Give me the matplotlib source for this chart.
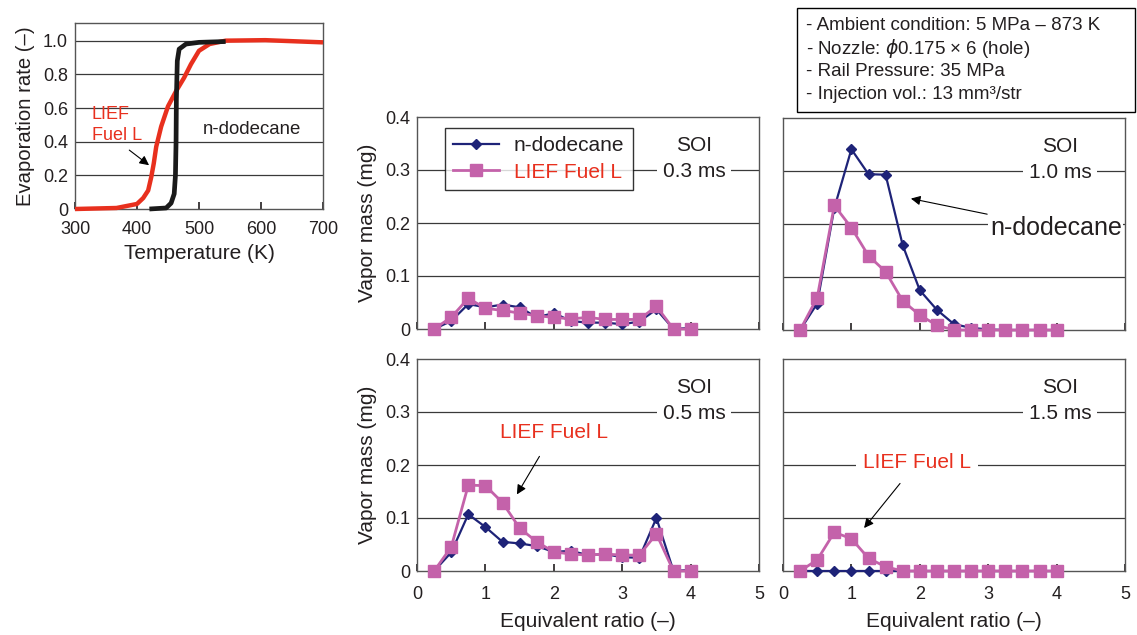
import numpy as np
import matplotlib
matplotlib.use("Agg")
import matplotlib.pyplot as plt
from matplotlib.patches import Rectangle

plt.rcParams['font.family'] = ['Liberation Sans', 'DejaVu Sans']
plt.rcParams['mathtext.fontset'] = 'dejavusans'

# ---- data ----
# evaporation curves (temperature K, evaporation rate)
lief_T = [300, 367, 400, 410, 418, 423, 427, 431, 439, 450, 463, 476, 487, 500, 517, 543, 607, 700]
lief_rate = [0, 0.006, 0.03, 0.065, 0.11, 0.19, 0.27, 0.37, 0.49, 0.61, 0.70, 0.78, 0.86, 0.94, 0.98, 1.0, 1.003, 0.99]
dode_T = [420, 447, 455, 460, 462, 463, 463.5, 465, 468, 479, 500, 543]
dode_rate = [0, 0.006, 0.035, 0.09, 0.2, 0.4, 0.65, 0.88, 0.95, 0.98, 0.99, 0.995]

phi = [0.25, 0.5, 0.75, 1.0, 1.25, 1.5, 1.75, 2.0, 2.25, 2.5, 2.75, 3.0, 3.25, 3.5, 3.75, 4.0]

dode_03 = [0, 0.015, 0.047, 0.041, 0.046, 0.041, 0.022, 0.030, 0.015, 0.012, 0.012, 0.009, 0.014, 0.037, 0, 0.002]
lief_03 = [0, 0.022, 0.058, 0.039, 0.035, 0.030, 0.025, 0.022, 0.019, 0.022, 0.018, 0.018, 0.018, 0.043, 0, 0]

dode_10 = [0, 0.05, 0.23, 0.341, 0.294, 0.293, 0.16, 0.075, 0.038, 0.011, 0.004, 0.001, 0, 0, 0, 0]
lief_10 = [0, 0.061, 0.235, 0.193, 0.14, 0.11, 0.055, 0.028, 0.009, 0, 0, 0, 0, 0, 0, 0]

dode_05 = [0, 0.035, 0.107, 0.083, 0.055, 0.052, 0.047, 0.036, 0.038, 0.030, 0.032, 0.026, 0.025, 0.100, 0, 0.002]
lief_05 = [0, 0.045, 0.162, 0.161, 0.129, 0.081, 0.055, 0.036, 0.032, 0.030, 0.032, 0.030, 0.030, 0.070, 0, 0]

dode_15 = [0, 0, 0, 0, 0, 0, 0, 0, 0, 0, 0, 0, 0, 0, 0, 0]
lief_15 = [0, 0.021, 0.073, 0.061, 0.024, 0.008, 0, 0, 0, 0, 0, 0, 0, 0, 0, 0]

soi_labels = ['SOI\n0.3 ms', 'SOI\n1.0 ms', 'SOI\n0.5 ms', 'SOI\n1.5 ms']
vm_ticks = [0, 0.1, 0.2, 0.3, 0.4]
vm_ticklabels = ['0', '0.1', '0.2', '0.3', '0.4']
er_ticks = [0, 0.2, 0.4, 0.6, 0.8, 1.0]
er_ticklabels = ['0', '0.2', '0.4', '0.6', '0.8', '1.0']
info_lines = ['- Ambient condition: 5 MPa \u2013 873 K',
              '- Nozzle: $\\phi$0.175 \u00d7 6 (hole)',
              '- Rail Pressure: 35 MPa',
              '- Injection vol.: 13 mm\u00b3/str']

TXT = '#231f20'
NAVY = '#1e2378'
PINK = '#c462aa'
RED = '#e8301e'
GRID = '#3a3a3a'

fig = plt.figure(figsize=(11.37, 6.35), dpi=100)


def style(ax):
    for s in ax.spines.values():
        s.set_color('#555555')
        s.set_linewidth(1.0)
    ax.tick_params(colors=TXT, labelsize=13)
    ax.tick_params(axis='x', direction='in', length=5, width=1.2, color=TXT, top=False)
    ax.tick_params(axis='y', length=0, pad=5)
    ax.set_axisbelow(True)


# ---- evaporation panel ----
ax0 = fig.add_axes([75 / 1137, 1 - 209 / 635, 248 / 1137, 186 / 635])
style(ax0)
for y in er_ticks[1:]:
    ax0.axhline(y, color=GRID, lw=0.9, zorder=0)
ax0.plot(lief_T, lief_rate, color=RED, lw=3.2, solid_capstyle='butt', clip_on=False, zorder=3)
ax0.plot(dode_T, dode_rate, color='#1a1a1a', lw=3.4, solid_capstyle='butt', clip_on=False, zorder=4)
ax0.set_xlim(300, 700)
ax0.set_ylim(0, 1.105)
ax0.set_xticks([300, 400, 500, 600, 700])
ax0.set_yticks(er_ticks)
ax0.set_yticklabels(er_ticklabels)
ax0.tick_params(axis='x', pad=9)
ax0.set_xlabel('Temperature (K)', fontsize=15, color=TXT, labelpad=4)
ax0.set_ylabel('Evaporation rate (\u2013)', fontsize=14.6, color=TXT, labelpad=6)
ax0.text(327, 0.5, 'LIEF\nFuel L', color=RED, fontsize=13, ha='left', va='center', linespacing=1.3)
ax0.annotate('', xy=(423, 0.25), xytext=(384, 0.36),
             arrowprops=dict(arrowstyle='-|>', color='black', lw=0.8, mutation_scale=14))
ax0.text(586, 0.47, 'n-dodecane', color=TXT, fontsize=13.4, ha='center', va='center')

# ---- vapor mass panels ----
panels = [
    (417, 117, dode_03, lief_03),
    (783, 118, dode_10, lief_10),
    (417, 359, dode_05, lief_05),
    (783, 359, dode_15, lief_15),
]
axes = []
for i, (px, py, d, l) in enumerate(panels):
    ax = fig.add_axes([px / 1137, 1 - (py + 212) / 635, 342 / 1137, 212 / 635])
    style(ax)
    for y in vm_ticks[1:4]:
        ax.axhline(y, color=GRID, lw=0.9, zorder=0)
    ax.plot(phi, d, color=NAVY, lw=1.6, marker='D', ms=5.5, label='n-dodecane',
            clip_on=False, zorder=3)
    ax.plot(phi, l, color=PINK, lw=2.0, marker='s', ms=8, label='LIEF Fuel L',
            clip_on=False, zorder=4)
    ax.set_xlim(0, 5)
    ax.set_ylim(0, 0.4)
    ax.set_xticks([0, 1, 2, 3, 4, 5])
    ax.set_yticks(vm_ticks)
    ax.set_yticklabels(vm_ticklabels)
    ax.tick_params(axis='x', pad=11)
    if i < 2:
        ax.tick_params(axis='x', labelbottom=False)
    else:
        ax.set_xlabel('Equivalent ratio (\u2013)', fontsize=15, color=TXT, labelpad=6)
    if i % 2 == 1:
        ax.tick_params(axis='y', labelleft=False)
    else:
        ax.set_ylabel('Vapor mass (mg)', fontsize=15, color=TXT, labelpad=6)
    ax.text(4.05, 0.322, soi_labels[i], ha='center', va='center', fontsize=15, color=TXT,
            linespacing=1.5, zorder=5,
            bbox=dict(facecolor='white', edgecolor='none', pad=4))
    axes.append(ax)

leg = axes[0].legend(loc='upper left', bbox_to_anchor=(0.082, 0.948), borderaxespad=0,
                     fontsize=15, frameon=True, fancybox=False, edgecolor='black',
                     handlelength=2.2, handletextpad=0.7, borderpad=0.4, labelspacing=0.35)
leg.get_frame().set_linewidth(1.0)
leg.set_zorder(6)
for t, c in zip(leg.get_texts(), [TXT, RED]):
    t.set_color(c)

axes[1].annotate('n-dodecane', xy=(1.83, 0.249), xytext=(3.99, 0.192), ha='center', va='center',
                 fontsize=18, color=TXT, zorder=5,
                 bbox=dict(facecolor='white', edgecolor='none', pad=1),
                 arrowprops=dict(arrowstyle='-|>', color='black', lw=0.8, mutation_scale=14))
axes[2].annotate('LIEF Fuel L', xy=(1.44, 0.14), xytext=(2.0, 0.262), ha='center', va='center',
                 fontsize=15, color=RED, zorder=5,
                 arrowprops=dict(arrowstyle='-|>', color='black', lw=0.8, mutation_scale=14,
                                 shrinkA=10))
axes[3].annotate('LIEF Fuel L', xy=(1.16, 0.077), xytext=(1.96, 0.205), ha='center', va='center',
                 fontsize=15, color=RED, zorder=5,
                 bbox=dict(facecolor='white', edgecolor='none', boxstyle='square,pad=0.35'),
                 arrowprops=dict(arrowstyle='-|>', color='black', lw=0.8, mutation_scale=14,
                                 shrinkA=4))

# ---- condition box ----
fig.patches.append(Rectangle((797 / 1137, 1 - 112 / 635), 338 / 1137, 104 / 635,
                             transform=fig.transFigure, facecolor='white', edgecolor='black',
                             lw=1.0, zorder=0))
for k, line in enumerate(info_lines):
    fig.text(806 / 1137, 1 - (26 + k * 22.7) / 635, line, fontsize=13.5, color=TXT,
             ha='left', va='center')

fig.savefig('out.png', dpi=100, facecolor='white')
